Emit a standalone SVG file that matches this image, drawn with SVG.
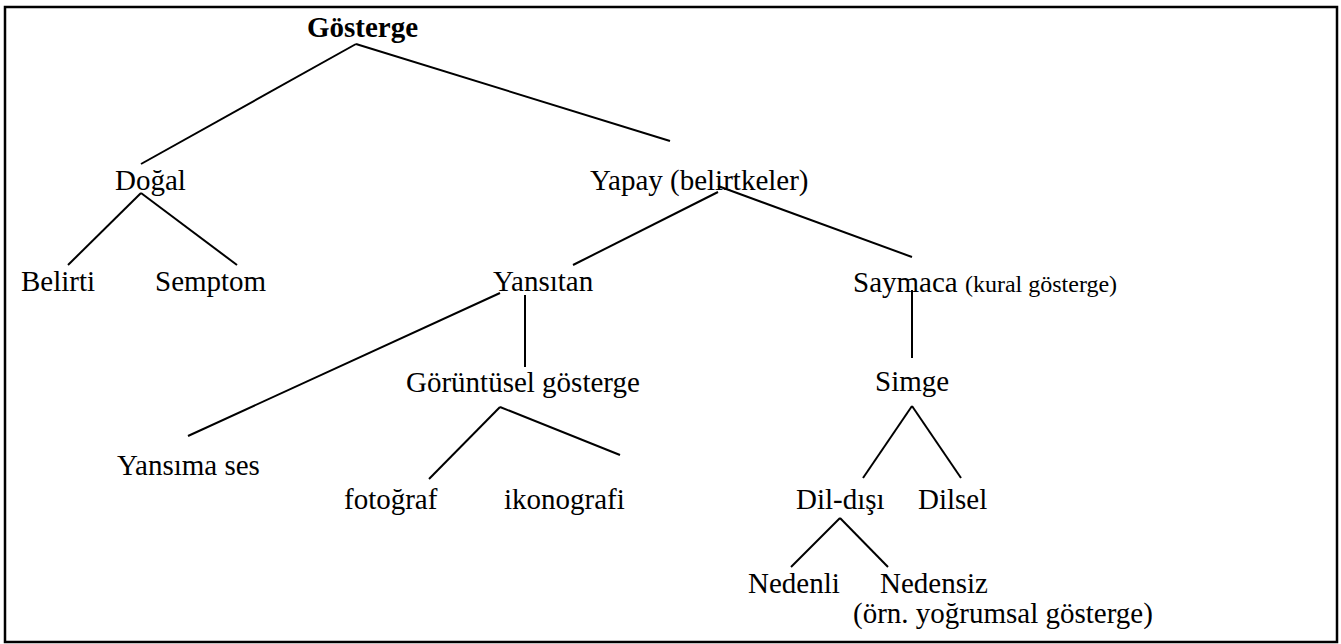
<svg xmlns="http://www.w3.org/2000/svg" width="1341" height="644" viewBox="0 0 1341 644">
<style>
text{font-family:"Liberation Serif","Times New Roman",serif;font-size:29px;fill:#000}
.b{font-weight:bold}
.s{font-size:24px}
.c line{stroke:#000;stroke-width:2;fill:none}
</style>
<rect x="0" y="0" width="1341" height="644" fill="#fff"/>
<rect x="5" y="7" width="1332" height="635" fill="none" stroke="#000" stroke-width="2.5"/>
<g class="c" id="connectors">
<line x1="356" y1="44" x2="141" y2="164"/>
<line x1="356" y1="44" x2="670" y2="141"/>
<line x1="141" y1="193" x2="68" y2="265"/>
<line x1="141" y1="193" x2="237" y2="265"/>
<line x1="718" y1="192" x2="573" y2="265"/>
<line x1="718" y1="186" x2="912" y2="257"/>
<line x1="500" y1="293" x2="188" y2="436"/>
<line x1="525" y1="295" x2="525" y2="367"/>
<line x1="500" y1="407" x2="429" y2="479"/>
<line x1="500" y1="407" x2="620" y2="455"/>
<line x1="912" y1="290" x2="912" y2="358"/>
<line x1="912" y1="406" x2="863" y2="478"/>
<line x1="912" y1="406" x2="961" y2="478"/>
<line x1="840" y1="518" x2="791" y2="567"/>
<line x1="840" y1="518" x2="888" y2="567"/>
</g>
<g id="gosterge"><text class="b" x="307" y="37">Gösterge</text></g>
<g id="dogal"><text x="115" y="190">Doğal</text></g>
<g id="yapay"><text x="590" y="190">Yapay (belirtkeler)</text></g>
<g id="belirti"><text x="21" y="291">Belirti</text></g>
<g id="semptom"><text x="155" y="291">Semptom</text></g>
<g id="yansitan"><text x="493" y="291">Yansıtan</text></g>
<g id="saymaca"><text x="853" y="292">Saymaca <tspan class="s">(kural gösterge)</tspan></text></g>
<g id="goruntusel"><text x="406" y="392">Görüntüsel gösterge</text></g>
<g id="simge"><text x="875" y="391">Simge</text></g>
<g id="yansima"><text x="117" y="475">Yansıma ses</text></g>
<g id="fotograf"><text x="344" y="509">fotoğraf</text></g>
<g id="ikonografi"><text x="504" y="509">ikonografi</text></g>
<g id="dildisi"><text x="796" y="509">Dil-dışı</text></g>
<g id="dilsel"><text x="918" y="509">Dilsel</text></g>
<g id="nedenli"><text x="748" y="593">Nedenli</text></g>
<g id="nedensiz"><text x="880" y="593">Nedensiz</text><text x="853" y="623">(örn. yoğrumsal gösterge)</text></g>
</svg>
